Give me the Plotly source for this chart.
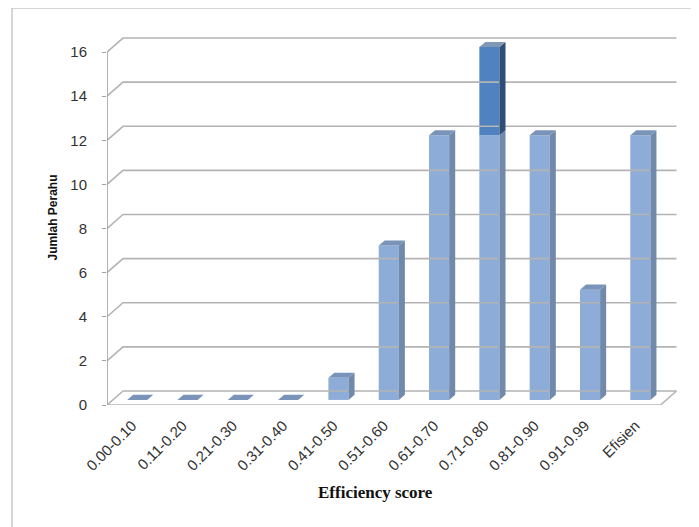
import plotly.graph_objects as go

categories = ["0.00-0.10", "0.11-0.20", "0.21-0.30", "0.31-0.40", "0.41-0.50",
              "0.51-0.60", "0.61-0.70", "0.71-0.80", "0.81-0.90", "0.91-0.99", "Efisien"]
base_values = [0, 0, 0, 0, 1, 7, 12, 12, 12, 5, 12]
extra_values = [0, 0, 0, 0, 0, 0, 0, 4, 0, 0, 0]
y_ticks = [0, 2, 4, 6, 8, 10, 12, 14, 16]

# 3D-look geometry (axis units)
DX, DY = 0.318, 0.635        # wall depth
BDX, BDY = 0.12, 0.23        # bar depth
SHIFT_X, SHIFT_Y = 0.1, 0.23  # bar placement inside the depth
BAR_W = 0.4
n = len(categories)
xs = list(range(n))

GRID = "#b4b4b4"
FRONT = "#8aaad6"
SIDE = "#7189ab"
TOP = "#7a93b8"
FRONT2 = "#4a7ebd"
SIDE2 = "#2f4e76"
TOP2 = "#8097b6"

SANS = "Liberation Sans"
SERIF = "Liberation Serif"

fig = go.Figure()

# walls: gridlines on back wall + diagonal on left wall
for v in y_ticks:
    fig.add_trace(go.Scatter(
        x=[-0.5, -0.5 + DX, n - 0.5 + DX], y=[v, v + DY, v + DY],
        mode="lines", line=dict(color=GRID, width=1.6),
        hoverinfo="skip", showlegend=False))
# floor
fig.add_trace(go.Scatter(
    x=[-0.5, n - 0.5, n - 0.5 + DX], y=[0, 0, DY],
    mode="lines", line=dict(color=GRID, width=1.6),
    hoverinfo="skip", showlegend=False))
# y axis line
fig.add_trace(go.Scatter(
    x=[-0.5, -0.5], y=[0, y_ticks[-1]],
    mode="lines", line=dict(color="#a0a0a0", width=1.6),
    hoverinfo="skip", showlegend=False))


def faces(bases, heights, side_col, top_col, draw_top):
    for i, (b, h) in enumerate(zip(bases, heights)):
        xc = xs[i] + SHIFT_X
        xl, xr = xc - BAR_W / 2, xc + BAR_W / 2
        y0 = b + SHIFT_Y
        y1 = y0 + h
        if h > 0:
            fig.add_trace(go.Scatter(
                x=[xr, xr + BDX, xr + BDX, xr, xr],
                y=[y0, y0 + BDY, y1 + BDY, y1, y0],
                mode="lines", fill="toself", fillcolor=side_col,
                line=dict(width=0, color=side_col),
                hoverinfo="skip", showlegend=False))
        if draw_top[i]:
            fig.add_trace(go.Scatter(
                x=[xl, xl + BDX, xr + BDX, xr, xl],
                y=[y1, y1 + BDY, y1 + BDY, y1, y1],
                mode="lines", fill="toself", fillcolor=top_col,
                line=dict(width=0, color=top_col),
                hoverinfo="skip", showlegend=False))


faces([0] * n, base_values, SIDE, TOP, [e == 0 for e in extra_values])
faces(base_values, extra_values, SIDE2, TOP2, [e > 0 for e in extra_values])

fig.add_trace(go.Bar(
    x=[x + SHIFT_X for x in xs], y=base_values, base=[SHIFT_Y] * n,
    width=BAR_W, marker=dict(color=FRONT, line=dict(width=0)),
    opacity=0.97, showlegend=False, name="Jumlah"))
fig.add_trace(go.Bar(
    x=[x + SHIFT_X for x in xs], y=extra_values,
    base=[b + SHIFT_Y for b in base_values],
    width=BAR_W, marker=dict(color=FRONT2, line=dict(width=0)),
    opacity=0.97, showlegend=False, name="Jumlah+"))

PW = 571.0
PH = 375.0
fig.update_layout(
    width=699, height=527,
    margin=dict(l=99, r=29, t=22, b=130),
    paper_bgcolor="white", plot_bgcolor="white",
    barmode="overlay",
    font=dict(family=SANS, color="#333333"),
    xaxis=dict(
        range=[-0.5, n - 0.5 + DX + 0.03],
        tickmode="array", tickvals=xs, ticktext=categories,
        tickangle=-45, tickfont=dict(family=SANS, size=15, color="#333333"),
        showgrid=False, zeroline=False, showline=False, ticks="",
        ticklabelstandoff=8,
    ),
    yaxis=dict(
        range=[0, 17],
        tickmode="array", tickvals=y_ticks,
        tickfont=dict(family=SANS, size=15, color="#333333"),
        showgrid=False, zeroline=False, showline=False,
        ticks="outside", ticklen=4, tickcolor="#a0a0a0", tickwidth=1.4,
        ticklabelstandoff=12,
        title=dict(text="<b>Jumlah Perahu</b>",
                   font=dict(family=SANS, size=12, color="#111111"),
                   standoff=10),
    ),
    annotations=[
        dict(text="<b>Efficiency score</b>", xref="paper", yref="paper",
             x=(375 - 107) / PW, y=(397 - 484) / PH,
             xanchor="center", yanchor="middle", showarrow=False,
             font=dict(family=SERIF, size=17, color="#111111")),
    ],
    shapes=[
        dict(type="line", xref="paper", yref="paper",
             x0=-95 / PW, y0=1 + 22 / PH, x1=1.2, y1=1 + 22 / PH,
             line=dict(color="#c8c8c8", width=1.5)),
        dict(type="line", xref="paper", yref="paper",
             x0=-95 / PW, y0=1 + 22 / PH, x1=-95 / PW, y1=-0.5,
             line=dict(color="#c8c8c8", width=1.5)),
    ],
)

fig.write_html("out.html")
